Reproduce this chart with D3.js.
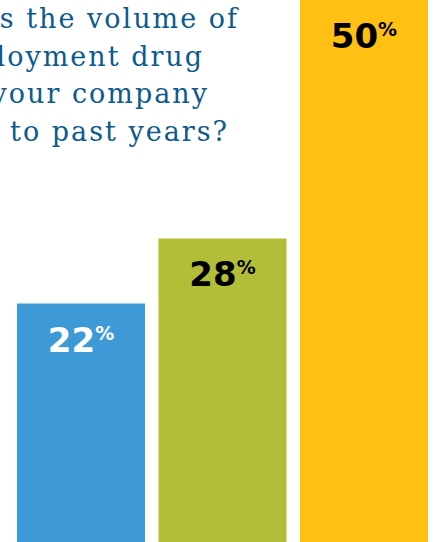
<!DOCTYPE html>
<html>
<head>
<meta charset="utf-8">
<script src="https://cdn.jsdelivr.net/npm/d3@7"></script>
<style>
  body { margin: 0; background: #fff; }
  svg { display: block; }
</style>
</head>
<body>
<script>
//bar chart of drug testing volume, redrawn with d3

//data
var categories = ["Decreased", "Stayed the same", "Increased"];
var values = [22, 28, 50];
var barColors = ["#3d9ad6", "#b2bd38", "#fec013"];
var labelColors = ["#ffffff", "#000000", "#000000"];
var titleLines = [
    "How does the volume of",
    "pre-employment drug",
    "testing at your company",
    "compare to past years?"
];

var w = 433, h = 542;

var svg = d3.select("body")
    .append("svg")
    .attr("width", w)
    .attr("height", h);

//x band scale for the three bars
var x = d3.scaleBand()
    .domain(categories)
    .range([17, 428])
    .paddingInner(0.095)
    .paddingOuter(0);

//y scale, bars run off the bottom edge
var y = d3.scaleLinear()
    .domain([0, 50])
    .range([542, 0]);

//title, cropped on the left like the source
var titleEnds = [239, 204, 209, 229];
svg.append("g")
    .attr("class", "title")
    .selectAll("text")
    .data(titleLines)
    .enter()
    .append("text")
    .attr("text-anchor", "end")
    .attr("x", function(d, i){ return titleEnds[i]; })
    .attr("y", function(d, i){ return 28 + i * 37.5; })
    .style("font-family", "'DejaVu Serif', serif")
    .style("font-size", "27px")
    .style("letter-spacing", "2px")
    .style("fill", "#0d5a8c")
    .text(function(d){ return d; });

//bars
svg.selectAll(".bar")
    .data(values)
    .enter()
    .append("rect")
    .attr("class", "bar")
    .attr("x", function(d, i){ return x(categories[i]); })
    .attr("y", function(d){ return y(d); })
    .attr("width", x.bandwidth())
    .attr("height", function(d){ return y(0) - y(d); })
    .style("fill", function(d, i){ return barColors[i]; });

//value labels with small raised percent sign
var labels = svg.selectAll(".label")
    .data(values)
    .enter()
    .append("text")
    .attr("class", "label")
    .attr("text-anchor", "middle")
    .attr("x", function(d, i){ return x(categories[i]) + x.bandwidth() / 2; })
    .attr("y", function(d){ return y(d) + 48; })
    .style("font-family", "'DejaVu Sans', sans-serif")
    .style("font-weight", "bold")
    .style("fill", function(d, i){ return labelColors[i]; });

labels.append("tspan")
    .style("font-size", "34px")
    .text(function(d){ return d; });

labels.append("tspan")
    .attr("dy", -12)
    .style("font-size", "19px")
    .text("%");
</script>
</body>
</html>
